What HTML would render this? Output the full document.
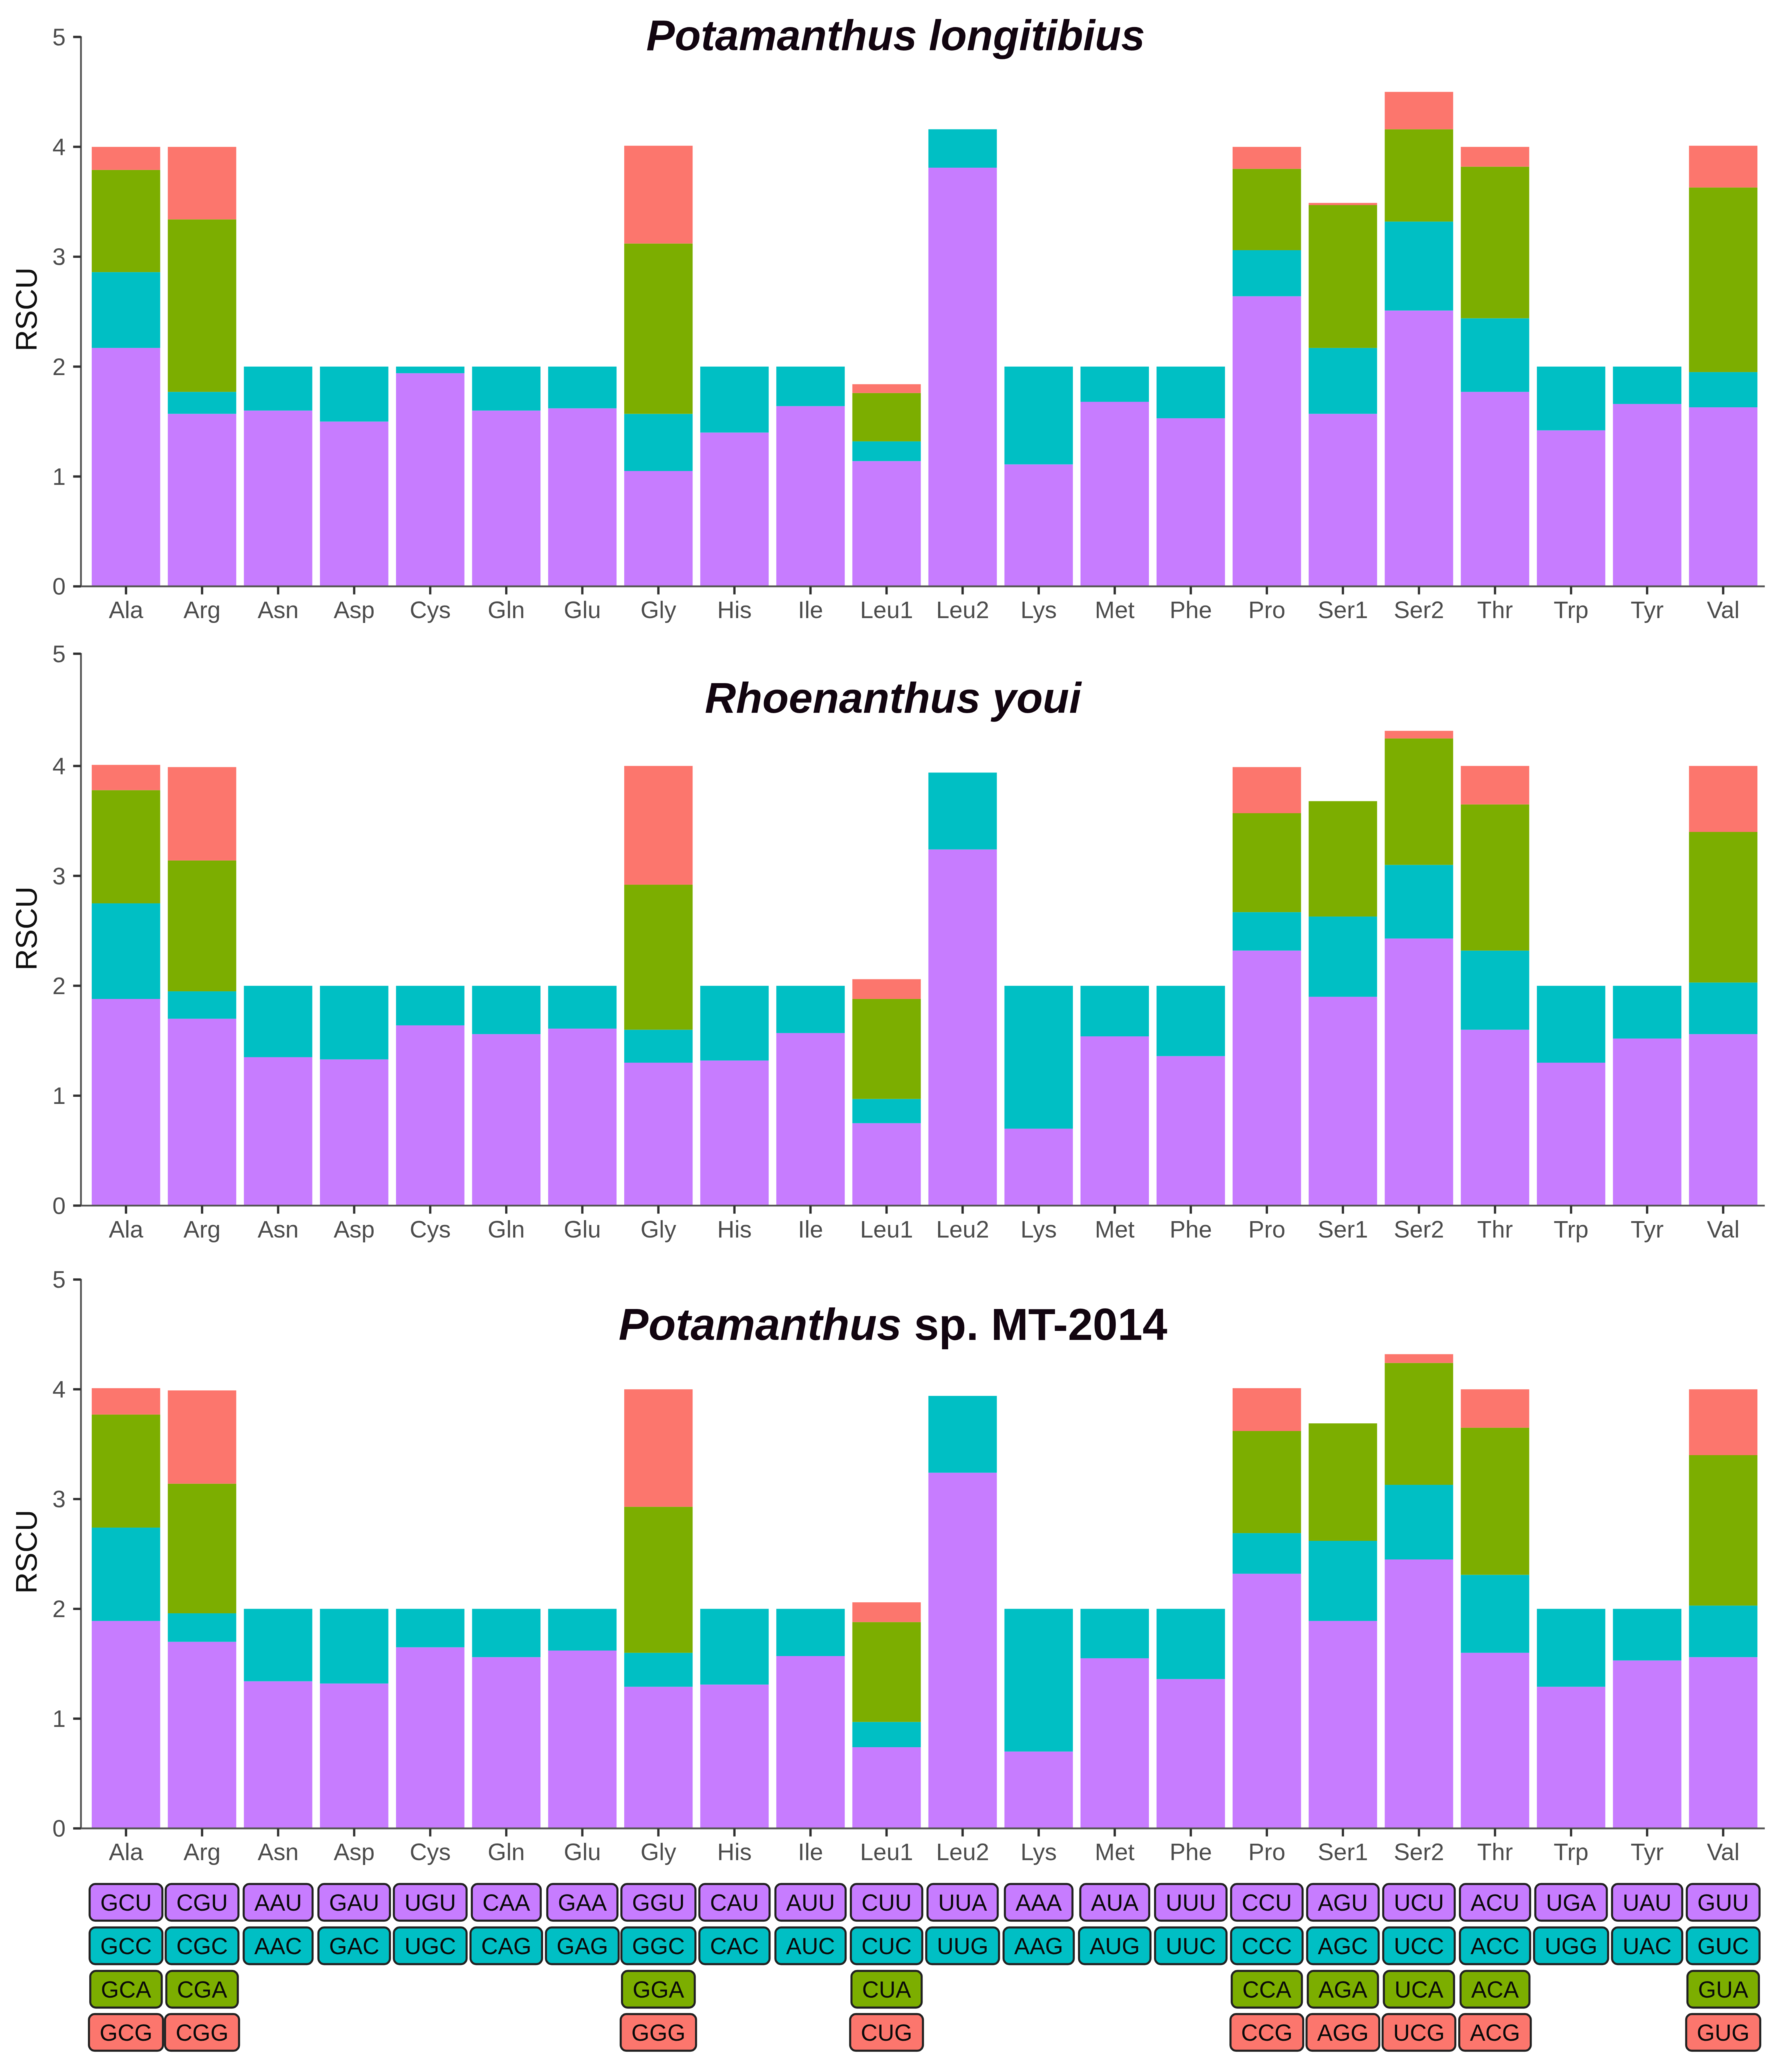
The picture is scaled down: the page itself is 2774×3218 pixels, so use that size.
<!DOCTYPE html>
<html lang="en">
<head>
<meta charset="utf-8">
<title>RSCU of mitochondrial genomes</title>
<style>
html,body{margin:0;padding:0;background:#fff;width:2774px;height:3218px;overflow:hidden}
svg{display:block;filter:blur(0.6px)}
text{font-family:"Liberation Sans",Arial,sans-serif}
</style>
</head>
<body>
<svg id="chart" xmlns="http://www.w3.org/2000/svg" width="2774" height="3218" viewBox="0 0 2774 3218"></svg>
<script>
const categories = ["Ala","Arg","Asn","Asp","Cys","Gln","Glu","Gly","His","Ile","Leu1","Leu2","Lys","Met","Phe","Pro","Ser1","Ser2","Thr","Trp","Tyr","Val"];
const yTicks = [0,1,2,3,4,5];

const longitibiusFirst  = [2.17,1.57,1.60,1.50,1.94,1.60,1.62,1.05,1.40,1.64,1.14,3.81,1.11,1.68,1.53,2.64,1.57,2.51,1.77,1.42,1.66,1.63];
const longitibiusSecond = [0.69,0.20,0.40,0.50,0.06,0.40,0.38,0.52,0.60,0.36,0.18,0.35,0.89,0.32,0.47,0.42,0.60,0.81,0.67,0.58,0.34,0.32];
const longitibiusThird  = [0.93,1.57,0,0,0,0,0,1.55,0,0,0.44,0,0,0,0,0.74,1.30,0.84,1.38,0,0,1.68];
const longitibiusFourth = [0.21,0.66,0,0,0,0,0,0.89,0,0,0.08,0,0,0,0,0.20,0.02,0.34,0.18,0,0,0.38];

const youiFirst  = [1.88,1.70,1.35,1.33,1.64,1.56,1.61,1.30,1.32,1.57,0.75,3.24,0.70,1.54,1.36,2.32,1.90,2.43,1.60,1.30,1.52,1.56];
const youiSecond = [0.87,0.25,0.65,0.67,0.36,0.44,0.39,0.30,0.68,0.43,0.22,0.70,1.30,0.46,0.64,0.35,0.73,0.67,0.72,0.70,0.48,0.47];
const youiThird  = [1.03,1.19,0,0,0,0,0,1.32,0,0,0.91,0,0,0,0,0.90,1.05,1.15,1.33,0,0,1.37];
const youiFourth = [0.23,0.85,0,0,0,0,0,1.08,0,0,0.18,0,0,0,0,0.42,0,0.07,0.35,0,0,0.60];

const mt2014First  = [1.89,1.70,1.34,1.32,1.65,1.56,1.62,1.29,1.31,1.57,0.74,3.24,0.70,1.55,1.36,2.32,1.89,2.45,1.60,1.29,1.53,1.56];
const mt2014Second = [0.85,0.26,0.66,0.68,0.35,0.44,0.38,0.31,0.69,0.43,0.23,0.70,1.30,0.45,0.64,0.37,0.73,0.68,0.71,0.71,0.47,0.47];
const mt2014Third  = [1.03,1.18,0,0,0,0,0,1.33,0,0,0.91,0,0,0,0,0.93,1.07,1.11,1.34,0,0,1.37];
const mt2014Fourth = [0.24,0.85,0,0,0,0,0,1.07,0,0,0.18,0,0,0,0,0.39,0,0.08,0.35,0,0,0.60];

const codonsFirst  = ["GCU","CGU","AAU","GAU","UGU","CAA","GAA","GGU","CAU","AUU","CUU","UUA","AAA","AUA","UUU","CCU","AGU","UCU","ACU","UGA","UAU","GUU"];
const codonsSecond = ["GCC","CGC","AAC","GAC","UGC","CAG","GAG","GGC","CAC","AUC","CUC","UUG","AAG","AUG","UUC","CCC","AGC","UCC","ACC","UGG","UAC","GUC"];
const codonsThird  = ["GCA","CGA","","","","","","GGA","","","CUA","","","","","CCA","AGA","UCA","ACA","","","GUA"];
const codonsFourth = ["GCG","CGG","","","","","","GGG","","","CUG","","","","","CCG","AGG","UCG","ACG","","","GUG"];

const PURPLE = "#C77CFF", TEAL = "#00BFC4", GREEN = "#7CAE00", RED = "#FC766D";
const fills = [PURPLE, TEAL, GREEN, RED];
const NS = "http://www.w3.org/2000/svg";
const svg = document.getElementById("chart");

const X0 = 195.7, STEP = 118.13, BARW = 106.3, AXIS_X = 125.7, AXIS_END = 2741;
function xScale(i){ return X0 + i * STEP; }

function mk(tag, attrs, parent){
  const el = document.createElementNS(NS, tag);
  for (const k in attrs) el.setAttribute(k, attrs[k]);
  (parent || svg).appendChild(el);
  return el;
}

const panels = [
  { id:"longitibius", y0:910.7, unit:170.66, topShift:0, series:[longitibiusFirst,longitibiusSecond,longitibiusThird,longitibiusFourth], rscuY:480.5 },
  { id:"youi", y0:1872.4, unit:170.7, topShift:-3.6, series:[youiFirst,youiSecond,youiThird,youiFourth], rscuY:1442 },
  { id:"mt2014", y0:2839.7, unit:170.5, topShift:0, series:[mt2014First,mt2014Second,mt2014Third,mt2014Fourth], rscuY:2410 }
];

panels.forEach(function(p){
  const yScale = function(v){ return p.y0 - v * p.unit; };
  const tickY = function(t){ return yScale(t) + (t === 5 ? p.topShift : 0); };
  const g = mk("g", {});
  
  

  categories.forEach(function(cat, i){
    let cum = 0;
    p.series.forEach(function(vals, s){
      const v = vals[i];
      if (!v) return;
      const top = yScale(cum + v), bot = yScale(cum);
      const r = mk("rect", {x:xScale(i)-BARW/2, y:top, width:BARW, height:bot-top, fill:fills[s]}, g);
      
      
      cum += v;
    });
  });

  const yAxis = mk("line", {x1:AXIS_X, x2:AXIS_X, y1:tickY(5)-1, y2:p.y0+1, stroke:"#555", "stroke-width":2.8}, g);
  
  
  const xAxis = mk("line", {x1:AXIS_X, x2:AXIS_END, y1:p.y0, y2:p.y0, stroke:"#555", "stroke-width":2.8}, g);
  
  

  yTicks.forEach(function(t){
    const tick = mk("line", {x1:113.6, x2:AXIS_X, y1:tickY(t), y2:tickY(t), stroke:"#333", "stroke-width":3.6}, g);
    
    
    const lab = mk("text", {x:102, y:tickY(t)+13, "text-anchor":"end", "font-size":37, fill:"#4D4D4D"}, g);
    lab.textContent = t;
    
    
  });

  categories.forEach(function(cat, i){
    const tick = mk("line", {x1:xScale(i), x2:xScale(i), y1:p.y0, y2:p.y0+12.5, stroke:"#333", "stroke-width":3.6}, g);
    
    
    const lab = mk("text", {x:xScale(i), y:p.y0+49.5, "text-anchor":"middle", "font-size":37, fill:"#4D4D4D"}, g);
    lab.textContent = cat;
    
    
  });

  const ylab = mk("text", {x:0, y:0, "text-anchor":"middle", "font-size":46, fill:"#111", transform:"translate(57 "+p.rscuY+") rotate(-90)"}, g);
  ylab.textContent = "RSCU";
  
  
});

const title1 = mk("text", {x:1391, y:78, "text-anchor":"middle", "font-size":66.4, "font-weight":"bold", "font-style":"italic", fill:"#120510"});
title1.textContent = "Potamanthus longitibius";



const title2 = mk("text", {x:1387, y:1107, "text-anchor":"middle", "font-size":67, "font-weight":"bold", "font-style":"italic", fill:"#120510"});
title2.textContent = "Rhoenanthus youi";



const title3 = mk("text", {x:1387, y:2081, "text-anchor":"middle", "font-size":69.4, "font-weight":"bold", fill:"#120510"});


const t3a = mk("tspan", {"font-style":"italic"}, title3);
t3a.textContent = "Potamanthus";
const t3b = mk("tspan", {}, title3);
t3b.textContent = " sp. MT-2014";

const codonRows = [codonsFirst, codonsSecond, codonsThird, codonsFourth];
const rowTops = [2926, 2993.5, 3061, 3128];
const BOX_H = 57, BOX_PAD = 16.5;
const legend = mk("g", {});


codonRows.forEach(function(row, r){
  row.forEach(function(codon, i){
    if (!codon) return;
    const box = mk("g", {}, legend);
    
    
    const rect = mk("rect", {y:rowTops[r], height:BOX_H, rx:9, ry:9, fill:fills[r], stroke:"#222", "stroke-width":3.2}, box);
    const txt = mk("text", {x:xScale(i), y:rowTops[r]+BOX_H/2+13, "text-anchor":"middle", "font-size":36, fill:"#0a0a0a"}, box);
    txt.textContent = codon;
    const w = txt.getComputedTextLength() + 2*BOX_PAD;
    rect.setAttribute("x", xScale(i) - w/2);
    rect.setAttribute("width", w);
  });
});
</script>
</body>
</html>
